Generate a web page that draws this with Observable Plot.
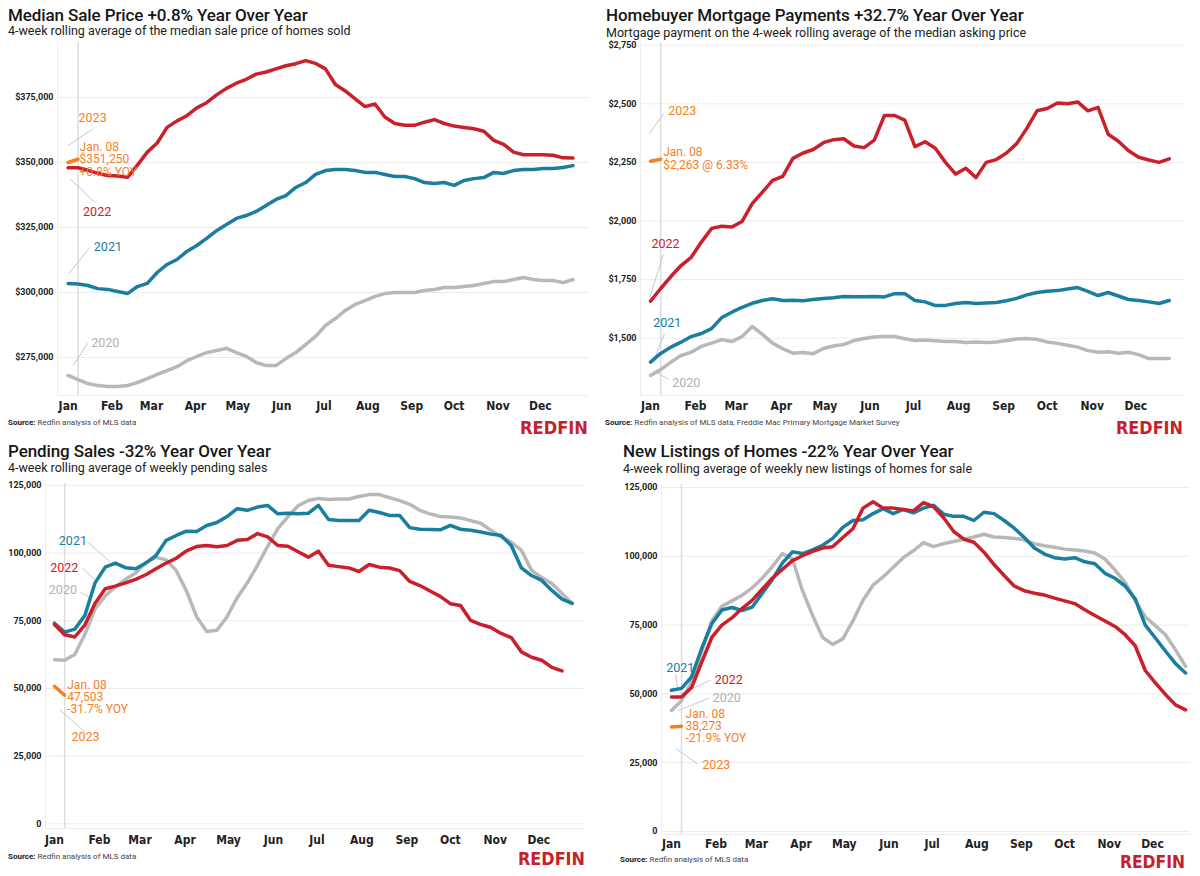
<!DOCTYPE html>
<html><head><meta charset="utf-8">
<script src="https://cdn.jsdelivr.net/npm/d3@7"></script>
<script src="https://cdn.jsdelivr.net/npm/@observablehq/plot@0.6"></script>
<style>
html,body{margin:0;padding:0;background:#fff}
body{width:1200px;height:876px;position:relative;overflow:hidden;font-family:Roboto,sans-serif}
.abs{position:absolute;white-space:nowrap}
.title{font-size:17px;line-height:17px;font-weight:500;color:#161616;letter-spacing:-0.1px}
.sub{font-size:12.5px;line-height:13px;color:#222}
.src{font-size:8px;line-height:8px;color:#444}
.src b{color:#222}
</style>
</head><body>
<script>
// ---------- shared tick labels ----------
const monthNames = ["Jan","Feb","Mar","Apr","May","Jun","Jul","Aug","Sep","Oct","Nov","Dec"];
const monthStartDays = [0,31,59,90,120,151,181,212,243,273,304,334];
const days2023 = [0, 7];   // Jan 1, Jan 8
const markerDay = 7;       // Jan 8

// ---------- Panel 1: Median sale price ----------
const sale2020 = [268100,266500,265000,264200,263900,263900,264200,265400,266900,268500,270000,271500,273800,275400,276900,277700,278500,276900,275400,273100,271900,271900,274600,276900,280000,283100,287300,290000,293100,295400,296900,298500,299600,300000,300000,300000,300800,301200,301900,301900,302300,302700,303500,304200,304200,305000,305800,305000,304600,304600,303800,305000];
const sale2021 = [303500,303300,302700,301500,301200,300400,299600,302300,303500,307700,310800,312700,315800,318100,320800,323800,326200,328500,329600,331200,333500,335800,337300,340400,342300,345400,346900,347300,347300,346900,346200,346200,345400,344600,344600,343800,342300,341900,342300,341200,343100,343800,344200,346200,345800,346900,347300,347300,347700,347700,348100,348800];
const sale2022 = [348000,348000,347000,345800,345000,344800,344300,349000,354000,357500,363500,366000,368000,371000,373000,376000,378500,380500,382000,384000,384800,386000,387200,388000,389200,388100,386000,380000,377500,374500,371500,372500,367500,365000,364300,364300,365500,366500,365000,364000,363500,363000,362000,358500,357000,354000,353000,353000,353000,352800,351800,351700];
const sale2023 = [350000, 351250];
const saleTicks = [275000,300000,325000,350000,375000];

// ---------- Panel 2: Mortgage payments ----------
const mort2020 = [1341,1366,1398,1426,1440,1465,1479,1494,1486,1507,1550,1516,1479,1455,1436,1439,1434,1456,1467,1473,1490,1499,1505,1507,1507,1498,1490,1492,1489,1486,1486,1482,1484,1482,1484,1490,1497,1499,1495,1484,1478,1470,1462,1447,1440,1442,1436,1440,1430,1413,1413,1413];
const mort2021 = [1398,1435,1462,1483,1507,1520,1541,1588,1611,1632,1649,1661,1668,1661,1662,1660,1665,1669,1673,1678,1677,1677,1678,1676,1690,1690,1661,1655,1639,1640,1648,1652,1648,1650,1652,1660,1670,1685,1695,1700,1703,1710,1716,1700,1682,1695,1680,1665,1661,1655,1648,1661];
const mort2022 = [1658,1712,1763,1810,1845,1910,1968,1978,1974,1998,2074,2123,2173,2190,2267,2290,2305,2334,2347,2351,2320,2313,2345,2450,2450,2430,2317,2338,2310,2250,2200,2225,2185,2250,2262,2290,2330,2395,2470,2480,2503,2500,2508,2470,2485,2370,2340,2300,2272,2260,2250,2265];
const mort2023 = [2255, 2263];
const mortTicks = [1500,1750,2000,2250,2500,2750];

// ---------- Panel 3: Pending sales ----------
const pend2020 = [60600,60400,62500,70000,79500,84200,87600,90300,92600,96500,98400,97500,93500,86000,76500,71000,71500,76500,83500,89000,95500,102500,109000,113500,117500,119400,120200,119800,120000,120000,120900,121600,121600,120500,119400,118000,115800,114500,113500,113300,113000,112000,111000,108400,106000,104000,101000,93600,91000,88800,85100,81400];
const pend2021 = [74100,70800,71900,77000,89000,94800,96300,94600,94200,96300,99100,104700,106500,108100,108000,110200,111300,113500,116400,115800,117000,117600,114500,114700,114500,114700,117600,112400,112000,112000,112000,115800,115000,113900,113900,109400,108800,108700,108600,110200,108800,108400,107800,107000,106500,102800,94500,91700,89900,86200,83000,81400];
const pend2022 = [73600,69800,69000,73500,81500,86800,87800,89000,90300,92000,94200,96300,98100,100800,102400,102800,102300,102800,104700,105000,107200,106000,102800,102500,100500,98500,100700,95500,95000,94500,93200,95800,94800,94500,93500,89500,88000,86000,84000,81300,80600,75100,73600,72500,70300,68800,63500,61500,60400,57800,56500];
const pend2023 = [50800, 47503];
const countTicks = [0,25000,50000,75000,100000,125000];

// ---------- Panel 4: New listings ----------
const list2020 = [44000,47500,54500,65500,76500,81800,83800,85800,88500,92000,96200,101000,99000,87500,78500,70500,68000,70000,76500,84000,89500,92500,96000,99500,102000,105000,103500,104600,105400,106200,107000,108000,107000,106800,106500,106000,104500,103800,103300,102600,102300,101900,101200,99000,95000,90500,84000,78000,74800,71500,66000,60000];
const list2021 = [51300,52000,56200,66500,75500,80500,81400,80300,81500,86500,91500,97500,101600,101000,102300,104000,106500,110500,113000,113300,115500,117300,115500,117000,115800,117500,118500,115300,114500,114500,113000,116000,115500,113000,110200,106800,103000,100800,99500,99000,99500,98000,97300,93800,92000,89200,84500,75000,70300,65600,61000,57600];
const list2022 = [48900,48900,52300,61500,70500,75000,77600,81000,84000,88000,92000,95200,98400,100200,101800,103000,103500,106800,110000,117500,119800,117500,117500,117000,116500,119500,118000,114000,109000,106200,105100,101500,97000,93000,89200,87500,86600,85900,84800,83800,82800,80600,78500,76500,74500,71500,67500,58500,54000,49800,46000,44200];
const list2023 = [38000, 38273];

// ---------- colours ----------
const C = {y2020:"#b8b8b8", y2021:"#1a7e9f", y2022:"#c9202b", y2023:"#f5801f", lab2020:"#b0b0b0", logo:"#c8202b"};

const weekly = arr => arr.map((v,i)=>({d:i*7, v}));
const short = arr => arr.map((v,i)=>({d:days2023[i], v}));
const monthMap = new Map(monthStartDays.map((d,i)=>[d, monthNames[i]]));

function panel(cfg){
  const [s20,s21,s22,s23] = cfg.series;
  const plot = Plot.plot({
    width: 600, height: cfg.h,
    marginLeft: cfg.ml, marginRight: cfg.mr, marginTop: cfg.mt, marginBottom: cfg.mb,
    x: {domain: cfg.xd},
    y: {domain: cfg.yd},
    style: {fontFamily:"Roboto, sans-serif", fontSize:"10px", color:"#222", background:"transparent", overflow:"visible"},
    marks: [
      Plot.gridY(cfg.yTicks, {stroke:"#ececec", strokeOpacity:1}),
      Plot.ruleX([cfg.xd[0]], {stroke:"#eeeeee"}),
      Plot.ruleY([cfg.yd[0]], {stroke:"#eeeeee"}),
      Plot.ruleX([markerDay], {stroke:"#dddddd", strokeWidth:1.5}),
      Plot.axisY(cfg.yTicks, {tickSize:0, tickPadding:4, tickFormat:cfg.yFmt, fontSize:9, fontWeight:700, fontFamily:"Roboto, sans-serif"}),
      Plot.axisX(monthStartDays, {tickSize:0, tickPadding:cfg.xPad, tickFormat:d=>monthMap.get(d), fontSize:12, fontWeight:700, fontFamily:"'DejaVu Sans Condensed',sans-serif"}),
      Plot.link(cfg.leaders, {x1:"d1", y1:"v1", x2:"d2", y2:"v2", stroke:"#c8c8c8", strokeWidth:1}),
      Plot.line(weekly(s20), {x:"d", y:"v", stroke:C.y2020, strokeWidth:3.5, strokeLinejoin:"round", strokeLinecap:"round"}),
      Plot.line(weekly(s21), {x:"d", y:"v", stroke:C.y2021, strokeWidth:3.5, strokeLinejoin:"round", strokeLinecap:"round"}),
      Plot.line(weekly(s22), {x:"d", y:"v", stroke:C.y2022, strokeWidth:3.5, strokeLinejoin:"round", strokeLinecap:"round"}),
      Plot.line(short(s23), {x:"d", y:"v", stroke:C.y2023, strokeWidth:3.5, strokeLinecap:"round"}),
      Plot.text(cfg.labels, {x:"d", y:"v", text:"t", fill:"c", textAnchor:"start", fontSize:12.5, fontFamily:"Roboto, sans-serif"}),
      Plot.text(cfg.notes, {x:"d", y:"v", text:"t", fill:C.y2023, textAnchor:"start", fontSize:12, fontFamily:"Roboto, sans-serif"})
    ]
  });
  const wrap = document.createElement("div");
  wrap.className = "abs";
  wrap.style.left = cfg.left + "px";
  wrap.style.top = cfg.top + "px";
  wrap.appendChild(plot);
  document.body.appendChild(wrap);
}

function addText(cls, html, left, top){
  const el = document.createElement("div");
  el.className = "abs " + cls;
  el.innerHTML = html;
  el.style.left = left + "px";
  el.style.top = top + "px";
  document.body.appendChild(el);
}

// Redfin wordmark: bold condensed text sized to fit the wordmark width (no distortion)
function addLogo(right, centerY, w){
  const ns = "http://www.w3.org/2000/svg";
  const svg = document.createElementNS(ns, "svg");
  svg.setAttribute("width", w + 2); svg.setAttribute("height", 20);
  svg.style.position = "absolute";
  svg.style.left = (right - w) + "px";
  svg.style.top = (centerY - 10) + "px";
  const t = document.createElementNS(ns, "text");
  t.setAttribute("x", 0); t.setAttribute("y", 16.5);
  t.setAttribute("fill", C.logo);
  t.setAttribute("font-family", "'DejaVu Sans Condensed', sans-serif");
  t.setAttribute("font-weight", "700");
  t.setAttribute("font-size", "22");
  t.textContent = "REDFIN";
  svg.appendChild(t);
  document.body.appendChild(svg);
  const natural = t.getComputedTextLength() || w;
  t.setAttribute("font-size", (22 * w / natural).toFixed(2));
}

// Panel 1
panel({
  left:0, top:40, h:375, ml:57, mr:12, mt:2, mb:20, xPad:6,
  xd:[-7.5, 368], yd:[260400, 396150], yTicks: saleTicks, yFmt: d3.format("$,.0f"),
  series:[sale2020, sale2021, sale2022, sale2023],
  leaders:[
    {d1:0.1, v1:356500, d2:17.7, v2:363000},
    {d1:1.4, v1:343700, d2:18.9, v2:334700},
    {d1:0.5, v1:307200, d2:15.3, v2:317400},
    {d1:3.6, v1:271900, d2:13.9, v2:280500}
  ],
  labels:[
    {d:7.4, v:367200, t:"2023", c:C.y2023},
    {d:10.6, v:330900, t:"2022", c:C.y2022},
    {d:18.2, v:317400, t:"2021", c:C.y2021},
    {d:16.3, v:280500, t:"2020", c:C.lab2020}
  ],
  notes:[
    {d:8.1, v:356000, t:"Jan. 08"},
    {d:8.1, v:351200, t:"$351,250"},
    {d:8.1, v:346300, t:"+0.8% YOY"}
  ]
});

// Panel 2
panel({
  left:600, top:40, h:375, ml:40, mr:15, mt:2, mb:20, xPad:6,
  xd:[-6.9, 368.2], yd:[1255.6, 2761.4], yTicks: mortTicks, yFmt: d3.format("$,.0f"),
  series:[mort2020, mort2021, mort2022, mort2023],
  leaders:[
    {d1:-0.7, v1:2374, d2:9.1, v2:2457},
    {d1:-0.5, v1:1675, d2:8.7, v2:1856},
    {d1:2.2, v1:1405, d2:9.6, v2:1519},
    {d1:2.0, v1:1362, d2:12.4, v2:1324}
  ],
  labels:[
    {d:12.2, v:2468, t:"2023", c:C.y2023},
    {d:0.7, v:1903, t:"2022", c:C.y2022},
    {d:1.8, v:1566, t:"2021", c:C.y2021},
    {d:14.9, v:1310, t:"2020", c:C.lab2020}
  ],
  notes:[
    {d:8.7, v:2295, t:"Jan. 08"},
    {d:8.7, v:2240, t:"$2,263 @ 6.33%"}
  ]
});

// Panel 3
panel({
  left:0, top:478, h:372, ml:45, mr:15, mt:5, mb:22, xPad:6.5,
  xd:[-6.2, 366.2], yd:[-1740, 125700], yTicks: countTicks, yFmt: d3.format(","),
  series:[pend2020, pend2021, pend2022, pend2023],
  leaders:[
    {d1:23.0, v1:104050, d2:38.6, v2:96660},
    {d1:19.1, v1:94600, d2:28.3, v2:89900},
    {d1:17.9, v1:85580, d2:23.7, v2:83730},
    {d1:3.5, v1:42120, d2:21.2, v2:33850}
  ],
  labels:[
    {d:3.0, v:104420, t:"2021", c:C.y2021},
    {d:-2.9, v:94600, t:"2022", c:C.y2022},
    {d:-3.9, v:86200, t:"2020", c:C.lab2020},
    {d:11.7, v:32000, t:"2023", c:C.y2023}
  ],
  notes:[
    {d:8.8, v:51300, t:"Jan. 08"},
    {d:8.8, v:46800, t:"47,503"},
    {d:8.8, v:42300, t:"-31.7% YOY"}
  ]
});

// Panel 4
panel({
  left:600, top:478, h:378, ml:61, mr:10, mt:6, mb:22, xPad:4.5,
  xd:[-6.9, 360.4], yd:[-1090, 126080], yTicks: countTicks, yFmt: d3.format(","),
  series:[list2020, list2021, list2022, list2023],
  leaders:[
    {d1:3.0, v1:57100, d2:4.4, v2:51700},
    {d1:27.1, v1:54960, d2:6.3, v2:49890},
    {d1:26.0, v1:48440, d2:4.4, v2:43840},
    {d1:3.5, v1:29960, d2:18.3, v2:24530}
  ],
  labels:[
    {d:-3.6, v:59530, t:"2021", c:C.y2021},
    {d:30.1, v:54960, t:"2022", c:C.y2022},
    {d:28.7, v:48440, t:"2020", c:C.lab2020},
    {d:21.4, v:24270, t:"2023", c:C.y2023}
  ],
  notes:[
    {d:9.8, v:42800, t:"Jan. 08"},
    {d:9.8, v:38400, t:"38,273"},
    {d:9.8, v:34000, t:"-21.9% YOY"}
  ]
});

// Titles, subtitles, sources, logos
addText("title", "Median Sale Price +0.8% Year Over Year", 8, 7);
addText("sub", "4-week rolling average of the median sale price of homes sold", 8, 24);
addText("title", "Homebuyer Mortgage Payments +32.7% Year Over Year", 606, 7);
addText("sub", "Mortgage payment on the 4-week rolling average of the median asking price", 606, 26);
addText("title", "Pending Sales -32% Year Over Year", 8, 443);
addText("sub", "4-week rolling average of weekly pending sales", 8, 461);
addText("title", "New Listings of Homes -22% Year Over Year", 623, 443);
addText("sub", "4-week rolling average of weekly new listings of homes for sale", 623, 462);

addText("src", "<b>Source:</b> Redfin analysis of MLS data", 8, 419);
addText("src", "<b>Source:</b> Redfin analysis of MLS data, Freddie Mac Primary Mortgage Market Survey", 605, 419);
addText("src", "<b>Source:</b> Redfin analysis of MLS data", 8, 853);
addText("src", "<b>Source:</b> Redfin analysis of MLS data", 620, 856);

addLogo(588, 427, 68);
addLogo(1183, 427, 67);
addLogo(585, 858, 67);
addLogo(1185, 861, 65);
</script>
</body></html>
